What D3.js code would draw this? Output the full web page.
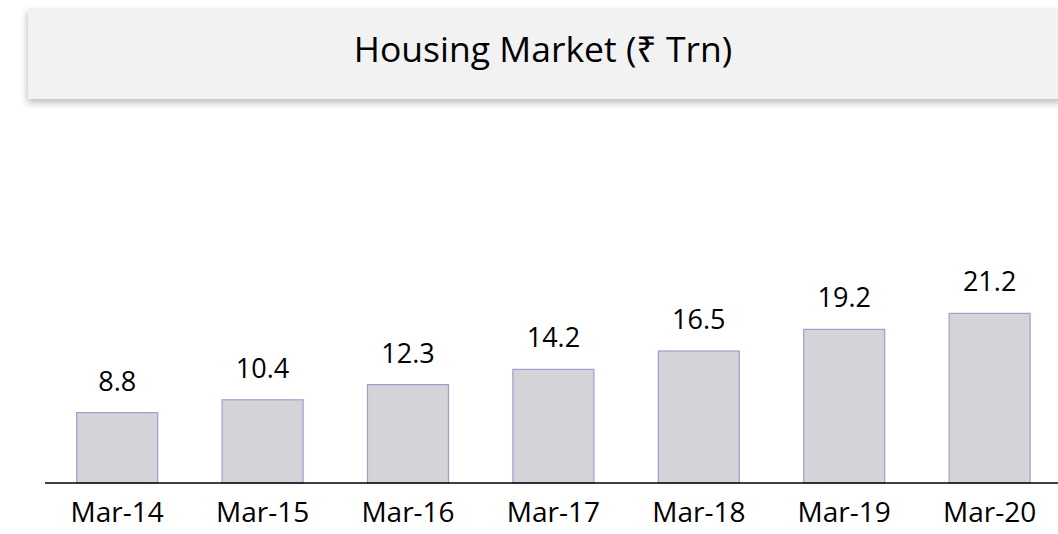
<!DOCTYPE html>
<html>
<head>
<meta charset="utf-8">
<script src="https://cdn.jsdelivr.net/npm/d3@7/dist/d3.min.js"></script>
<style>
  html, body { margin: 0; padding: 0; background: #ffffff; }
  svg { display: block; }
</style>
</head>
<body>
<svg id="chart" width="1058" height="534"></svg>
<script>
const title = "Housing Market (₹ Trn)";
const categories = ["Mar-14", "Mar-15", "Mar-16", "Mar-17", "Mar-18", "Mar-19", "Mar-20"];
const values = [8.8, 10.4, 12.3, 14.2, 16.5, 19.2, 21.2];
const valueLabels = ["8.8", "10.4", "12.3", "14.2", "16.5", "19.2", "21.2"];

const W = 1058, H = 534;
const svg = d3.select("#chart");
const font = "'Open Sans', 'Noto Sans', 'DejaVu Sans', sans-serif";

// defs: shadow for title box
const defs = svg.append("defs");
const f = defs.append("filter").attr("id", "shadow")
  .attr("x", "-5%").attr("y", "-20%").attr("width", "110%").attr("height", "150%");
f.append("feGaussianBlur").attr("in", "SourceAlpha").attr("stdDeviation", 3.5).attr("result", "blur");
f.append("feOffset").attr("in", "blur").attr("dx", -1).attr("dy", 4).attr("result", "off");
f.append("feComponentTransfer").attr("in", "off").attr("result", "sh")
  .append("feFuncA").attr("type", "linear").attr("slope", 0.25);
const m = f.append("feMerge");
m.append("feMergeNode").attr("in", "sh");
m.append("feMergeNode").attr("in", "SourceGraphic");

// title box
svg.append("rect")
  .attr("x", 28).attr("y", 8).attr("width", 1040).attr("height", 91)
  .attr("fill", "#f2f2f2")
  .attr("filter", "url(#shadow)");

svg.append("text")
  .attr("x", 543).attr("y", 62)
  .attr("text-anchor", "middle")
  .attr("font-family", font)
  .attr("font-size", 35.5)
  .attr("fill", "#000")
  .text(title);

// scales
const baseY = 483;
const x = d3.scaleBand()
  .domain(categories)
  .range([47.6, 1059.2])
  .paddingInner(0.443)
  .paddingOuter(0.2);

const y = d3.scaleLinear()
  .domain([0, 25])
  .range([baseY, baseY - 200]);

// bars
svg.append("g").selectAll("rect")
  .data(values)
  .join("rect")
  .attr("x", (d, i) => x(categories[i]))
  .attr("y", d => y(d))
  .attr("width", x.bandwidth())
  .attr("height", d => baseY - y(d))
  .attr("fill", "#d4d4d8")
  .attr("stroke", "#9d9dd2")
  .attr("stroke-width", 1.2);

// value labels
svg.append("g").selectAll("text")
  .data(values)
  .join("text")
  .attr("x", (d, i) => x(categories[i]) + x.bandwidth() / 2)
  .attr("y", d => y(d) - 22)
  .attr("text-anchor", "middle")
  .attr("font-family", font)
  .attr("font-size", 27)
  .attr("fill", "#000")
  .text((d, i) => valueLabels[i]);

// x axis
const axis = d3.axisBottom(x).tickSize(0).tickPadding(0);
const gx = svg.append("g")
  .attr("transform", `translate(0,${baseY})`)
  .call(axis);
gx.select(".domain").remove();
gx.append("line")
  .attr("x1", 45).attr("x2", W)
  .attr("y1", 0).attr("y2", 0)
  .attr("stroke", "#000").attr("stroke-width", 1.6);
gx.selectAll(".tick text")
  .attr("y", 39)
  .attr("dy", 0)
  .attr("font-family", font)
  .attr("font-size", 28)
  .attr("fill", "#000");
</script>
</body>
</html>
